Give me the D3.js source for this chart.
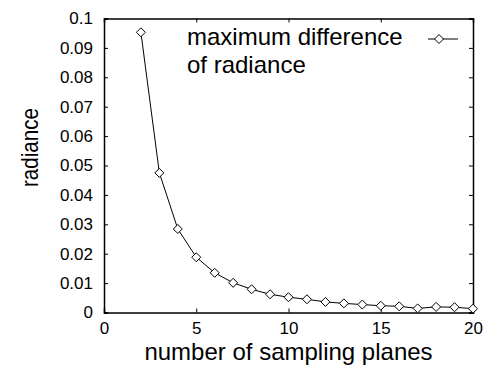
<!DOCTYPE html>
<html>
<head>
<meta charset="utf-8">
<script src="https://cdn.jsdelivr.net/npm/d3@7"></script>
<style>
  body { margin: 0; background: #fff; }
  svg { font-family: "Liberation Sans", Arial, sans-serif; }
</style>
</head>
<body>
<svg id="chart" width="486" height="369"></svg>
<script>
// 샘플링 평면 개수와 최대 radiance 차이
const planes = [2, 3, 4, 5, 6, 7, 8, 9, 10, 11, 12, 13, 14, 15, 16, 17, 18, 19, 20];
const maxDiff = [0.0953, 0.0475, 0.0284, 0.0188, 0.0135, 0.0101, 0.0079, 0.0062, 0.0052,
  0.0045, 0.0036, 0.0031, 0.0027, 0.0023, 0.0021, 0.0014, 0.0019, 0.0018, 0.0013];
const xTicks = [0, 5, 10, 15, 20];
const yTicks = [0, 0.01, 0.02, 0.03, 0.04, 0.05, 0.06, 0.07, 0.08, 0.09, 0.1];
const legendLines = ['maximum difference', 'of radiance'];

const svg = d3.select('#chart');
const x = d3.scaleLinear().domain([0, 20]).range([104, 473]);
const y = d3.scaleLinear().domain([0, 0.1]).range([312.5, 18.5]);

const tickFmt = d => d === 0 ? '0' : d3.format('.2~f')(d);

// 축 (눈금은 안쪽으로)
svg.append('g').attr('transform', 'translate(0,312.5)')
  .call(d3.axisBottom(x).tickValues(xTicks).tickSize(-4).tickPadding(9).tickFormat(d3.format('d')));
svg.append('g').attr('transform', 'translate(0,18.5)')
  .call(d3.axisTop(x).tickValues(xTicks).tickSize(-4).tickFormat(''));
svg.append('g').attr('transform', 'translate(104,0)')
  .call(d3.axisLeft(y).tickValues(yTicks).tickSize(-4).tickPadding(11).tickFormat(tickFmt));
svg.append('g').attr('transform', 'translate(473,0)')
  .call(d3.axisRight(y).tickValues(yTicks).tickSize(-4).tickFormat(''));

svg.selectAll('.domain').attr('stroke', '#000').attr('stroke-width', 1.5);
svg.selectAll('.tick line').attr('stroke', '#000');
svg.selectAll('.tick text').attr('font-size', 17).attr('fill', '#000')
  .attr('font-family', '"Liberation Sans", Arial, sans-serif');

// 축 제목
svg.append('text').attr('x', x(10)).attr('y', 360).attr('text-anchor', 'middle')
  .attr('font-size', 24).text('number of sampling planes');
svg.append('text').attr('transform', 'translate(38,147.5) rotate(-90)')
  .attr('text-anchor', 'middle').attr('font-size', 24)
  .attr('textLength', 79).attr('lengthAdjust', 'spacingAndGlyphs').text('radiance');

// 데이터 선 + 마름모 마커
const pts = planes.map((p, i) => [p, maxDiff[i]]);
svg.append('path').datum(pts)
  .attr('fill', 'none').attr('stroke', '#000').attr('stroke-width', 1)
  .attr('d', d3.line().x(d => x(d[0])).y(d => y(d[1])));

const diamond = (cx, cy) => `M${cx},${cy - 4.5}L${cx + 4.5},${cy}L${cx},${cy + 4.5}L${cx - 4.5},${cy}Z`;
svg.append('g').selectAll('path').data(pts).enter().append('path')
  .attr('d', d => diamond(x(d[0]), y(d[1])))
  .attr('fill', '#fff').attr('stroke', '#000').attr('stroke-width', 1);

// 범례
svg.append('g').selectAll('text').data(legendLines).enter().append('text')
  .attr('x', 187).attr('y', (d, i) => 45 + i * 28)
  .attr('font-size', 24).text(d => d);
svg.append('line').attr('x1', 428).attr('x2', 458).attr('y1', 39).attr('y2', 39)
  .attr('stroke', '#000');
svg.append('path').attr('d', diamond(439, 39)).attr('fill', '#fff').attr('stroke', '#000');
</script>
</body>
</html>
